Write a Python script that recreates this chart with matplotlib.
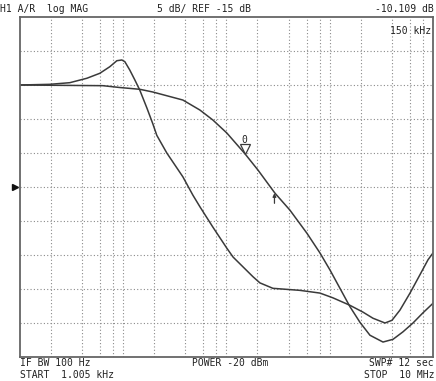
import matplotlib
matplotlib.use('Agg')
import matplotlib.pyplot as plt
import matplotlib.transforms as mtransforms

# trace 1: flat response that rolls off (marker trace)
freq_a = [1.005e3, 6.37e3, 9.30e3, 14.5e3, 19.4e3, 37.9e3, 55.4e3, 74.0e3, 101e3,
          151e3, 202e3, 295e3, 412e3, 602e3, 805e3, 1.006e6, 1.257e6, 1.571e6,
          1.963e6, 2.453e6, 3.28e6, 4.10e6, 5.12e6, 6.40e6, 8.00e6, 10e6]
mag_a = [0.0, -0.1, -0.37, -0.63, -1.03, -2.21, -3.68, -5.15, -7.06,
         -10.1, -12.5, -15.9, -18.4, -21.8, -24.7, -27.2, -29.9, -32.6,
         -34.9, -36.8, -37.8, -37.4, -36.3, -35.0, -33.5, -32.1]

# trace 2: peaking response with shelf
freq_b = [1.005e3, 1.95e3, 3.05e3, 4.46e3, 5.95e3, 7.44e3, 8.70e3, 9.72e3, 10.4e3,
          11.6e3, 13.0e3, 14.5e3, 17.0e3, 19.4e3, 21.2e3, 26.5e3, 37.9e3, 47.4e3,
          55.4e3, 74.0e3, 101e3, 116e3, 181e3, 211e3, 282e3, 515e3, 805e3,
          1.075e6, 1.571e6, 2.099e6, 2.624e6, 3.43e6, 4.01e6, 4.79e6, 5.99e6,
          7.48e6, 8.95e6, 10e6]
mag_b = [0.0, 0.1, 0.34, 0.99, 1.72, 2.69, 3.57, 3.68, 3.43,
         2.21, 0.74, -0.74, -3.38, -5.7, -7.4, -10.0, -13.5, -16.2,
         -17.9, -20.9, -24.0, -25.3, -28.2, -29.1, -29.9, -30.2, -30.6,
         -31.3, -32.4, -33.4, -34.3, -35.0, -34.6, -33.1, -30.6,
         -27.9, -25.7, -24.7]

grid_freqs = [m * 10 ** k for k in range(3, 7) for m in (2, 4, 6, 8, 10)][:-1]
grid_levels = [5, 0, -5, -10, -15, -20, -25, -30, -35]

marker_freq = 150e3
marker_val = -10.109
ref_level = -15

W, H = 436, 381
fig = plt.figure(figsize=(W / 100, H / 100), dpi=100)
ax = fig.add_axes([20 / W, (H - 357) / H, 413 / W, 340 / H])

line_col = '#3a3a3a'
ax.plot(freq_a, mag_a, color=line_col, lw=1.1)
ax.plot(freq_b, mag_b, color=line_col, lw=1.1)

ax.set_xscale('log')
ax.set_xlim(1.005e3, 10e6)
ax.set_ylim(-40, 10)
ax.set_xticks(grid_freqs)
ax.set_xticks([], minor=True)
ax.set_yticks(grid_levels)
ax.tick_params(length=0, labelbottom=False, labelleft=False)
ax.grid(True, color='#8a8a8a', lw=0.8, ls=(0, (1, 2)))
for s in ax.spines.values():
    s.set_color('#666666')
    s.set_linewidth(1.3)

mono = 'DejaVu Sans Mono'
fs = 7.0
tc = '#222222'

# marker 0 at 150 kHz
ax.plot([marker_freq], [marker_val + 0.65], marker='v', ms=7, mfc='white',
        mec=line_col, mew=0.9, ls='none')
ax.text(marker_freq, -8.1, '0', ha='center', va='center', family=mono,
        fontsize=fs, color=tc)
# small pointer below the trace
ax.annotate('', xy=(292e3, -15.9), xytext=(292e3, -17.4),
            arrowprops=dict(arrowstyle='-|>', lw=0.9, color=line_col,
                            mutation_scale=5, shrinkA=0, shrinkB=0))
ax.text(0.995, 0.96, '150 kHz', transform=ax.transAxes, ha='right', va='center',
        family=mono, fontsize=fs, color=tc)

# reference level pointer on the left
trans = mtransforms.blended_transform_factory(ax.transAxes, ax.transData)
ax.plot([-0.012], [ref_level], marker='>', ms=5, color='#111111',
        transform=trans, clip_on=False)

# header and footer annotations
def ftext(x, y, s, ha='left'):
    fig.text(x / W, 1 - y / H, s, ha=ha, va='center', family=mono,
             fontsize=fs, color=tc)

ftext(0, 9, 'H1 A/R  log MAG')
ftext(157, 9, '5 dB/ REF -15 dB')
ftext(434, 9, '-10.109 dB', ha='right')
ftext(20, 363, 'IF BW 100 Hz')
ftext(20, 374.5, 'START  1.005 kHz')
ftext(192, 363, 'POWER -20 dBm')
ftext(434, 363, 'SWP# 12 sec', ha='right')
ftext(434, 374.5, 'STOP  10 MHz', ha='right')

plt.savefig('out.png', dpi=100)
plt.close(fig)
